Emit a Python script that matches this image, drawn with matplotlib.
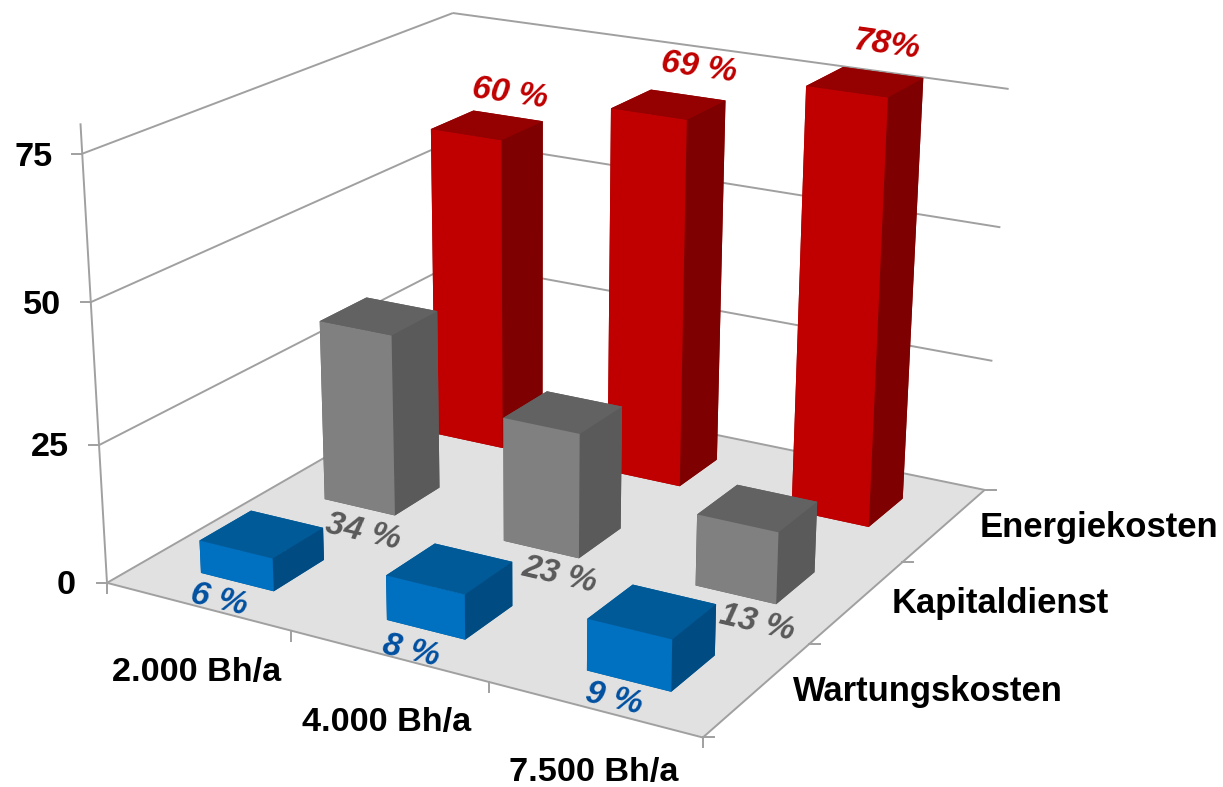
"""
3D cost share chart (Energiekosten, Kapitaldienst, Wartungskosten vs. Bh/a).
"""

import numpy as np
import matplotlib
matplotlib.use('Agg')
import matplotlib.pyplot as plt
from matplotlib.lines import Line2D
from mpl_toolkits.mplot3d import proj3d
from mpl_toolkits.mplot3d.art3d import Line3DCollection

plt.rcParams['font.family'] = ['Liberation Sans', 'DejaVu Sans']

WIDTH, HEIGHT = 1223, 787

hours = ['2.000 Bh/a', '4.000 Bh/a', '7.500 Bh/a']
cost_types = ['Wartungskosten', 'Kapitaldienst', 'Energiekosten']
wartung = [6, 8, 9]
kapital = [34, 23, 13]
energie = [60, 69, 78]
z_ticks = [0, 25, 50, 75]

# face colours: bottom, top, front, back, left, right
blue_faces = ['#005A98', '#005A98', '#0070C0', '#005A98', '#005A98', '#004C82']
gray_faces = ['#626262', '#626262', '#808080', '#626262', '#626262', '#5A5A5A']
red_faces = ['#950000', '#950000', '#C00000', '#950000', '#950000', '#7F0000']

LINE = '#A0A0A0'

# camera: where known corners of the chart box land in the picture (pixels)
box_world = np.array([
    [0, 0, 0], [3, 0, 0], [3, 3, 0], [0, 0, 25], [0, 0, 50], [0, 0, 75],
    [0, 3, 75], [3, 3, 75], [3, 3, 50], [3, 3, 25], [1, 0, 0], [2, 0, 0],
], dtype=float)
box_pixels = np.array([
    [107, 583], [703, 737], [984, 490], [99, 445], [91, 302], [82, 154],
    [453, 13], [1008, 89], [1001, 227], [993, 361], [291, 630], [489, 683],
], dtype=float)


def fit_camera(world, pixels):
    """Direct linear transform, returns a 3x4 matrix world -> display pixels."""
    w = world / [1, 1, 25]
    p = np.column_stack([pixels[:, 0], HEIGHT - pixels[:, 1]]) / 1000
    rows = []
    for (x, y, z), (u, v) in zip(w, p):
        rows.append([x, y, z, 1, 0, 0, 0, 0, -u * x, -u * y, -u * z, -u])
        rows.append([0, 0, 0, 0, x, y, z, 1, -v * x, -v * y, -v * z, -v])
    P = np.linalg.svd(np.array(rows))[2][-1].reshape(3, 4)
    P[:2] *= 1000
    P[:, 2] /= 25
    centre = P[2] @ [1.5, 1.5, 30, 1]
    return P / centre


fig = plt.figure(figsize=(WIDTH / 100, HEIGHT / 100), dpi=100, facecolor='white')
# square 3d axes wider than the figure is tall, so nothing gets clipped
ax = fig.add_axes([0, -(WIDTH - HEIGHT) / 2 / HEIGHT, 1, WIDTH / HEIGHT],
                  projection='3d', computed_zorder=False)
ax.apply_aspect()
ax.set_axis_off()

# view coordinates of the 3d axes are not pixels, so go through transData
P = ax.transData.inverted().get_matrix() @ fit_camera(box_world, box_pixels)
M = np.vstack([P[0], P[1], P[2] - [0, 0, 0, 0.5], P[2]])
ax.get_proj = lambda: M
ax.M = M


def to_px(x, y, z):
    vx, vy, _ = proj3d.proj_transform(x, y, z, M)
    return ax.transData.transform((vx, vy))


def stub(x, y, z, dx, dy):
    px, py = to_px(x, y, z)
    fig.add_artist(Line2D([(px + dx) / WIDTH, px / WIDTH],
                          [(py + dy) / HEIGHT, py / HEIGHT],
                          color=LINE, lw=1.4, transform=fig.transFigure))


# floor
ax.bar3d(0, 0, 0, 3, 3, 0.01, color='#E1E1E1', shade=False, zorder=1)

# floor edges, wall grid and the z axis
segments = [
    [(0, 0, 0), (3, 0, 0)],
    [(3, 0, 0), (3, 3, 0)],
    [(0, 0, 0), (0, 3, 0)],
    [(0, 3, 0), (3, 3, 0)],
    [(0, 0, 0), (0, 0, 80)],
]
for z in z_ticks[1:]:
    segments.append([(0, 0, z), (0, 3, z)])
    segments.append([(0, 3, z), (3, 3, z)])
ax.add_collection3d(Line3DCollection(segments, colors=LINE, linewidths=1.4, zorder=2))

# bars, back row first
bar_w = 0.40
rows = [(2, energie, red_faces), (1, kapital, gray_faces), (0, wartung, blue_faces)]
order = 3
for j, values, faces in rows:
    for i, v in enumerate(values):
        ax.bar3d(i + 0.5 - bar_w / 2, j + 0.5 - bar_w / 2, 0, bar_w, bar_w, v,
                 color=faces, shade=False, zorder=order)
        order += 1

# ticks
for z in z_ticks:
    stub(0, 0, z, -10, 0)
for i in range(len(hours) + 1):
    stub(i, 0, 0, 0, -10)
for j in range(len(cost_types) + 1):
    stub(3, j, 0, 11, 0)


def label(px, py, text, **kwargs):
    fig.text(px / WIDTH, 1 - py / HEIGHT, text, weight='bold', **kwargs)


# axis labels
for z, right, cy in zip(z_ticks, [76, 69, 61, 53], [585, 448, 305, 157]):
    label(right, cy, str(z), fontsize=24.7, ha='right', va='center')
for name, cx, cy in zip(hours, [197, 387, 594], [672, 722, 772]):
    label(cx, cy, name, fontsize=24.7, ha='center', va='center')
for name, left, cy in zip(cost_types, [793, 892, 980], [692, 604, 528]):
    label(left, cy, name, fontsize=24.9, ha='left', va='center')

# value labels
red_text = ['60 %', '69 %', '78%']
for v, cx, cy in zip(red_text, [510, 699, 887], [94, 68, 45]):
    label(cx, cy, v, fontsize=24, style='italic', color='#C00000', rotation=-8,
          ha='center', va='center')
for v, cx, cy in zip(kapital, [363, 560, 757], [532, 575, 623]):
    label(cx, cy, f'{v} %', fontsize=24, style='italic', color='#595959', rotation=-13,
          ha='center', va='center')
for v, cx, cy in zip(wartung, [219, 411, 614], [600, 651, 699]):
    label(cx, cy, f'{v} %', fontsize=24, style='italic', color='#0050A0', rotation=-13,
          ha='center', va='center')

fig.savefig('out.png', dpi=100, facecolor='white')
plt.close(fig)
